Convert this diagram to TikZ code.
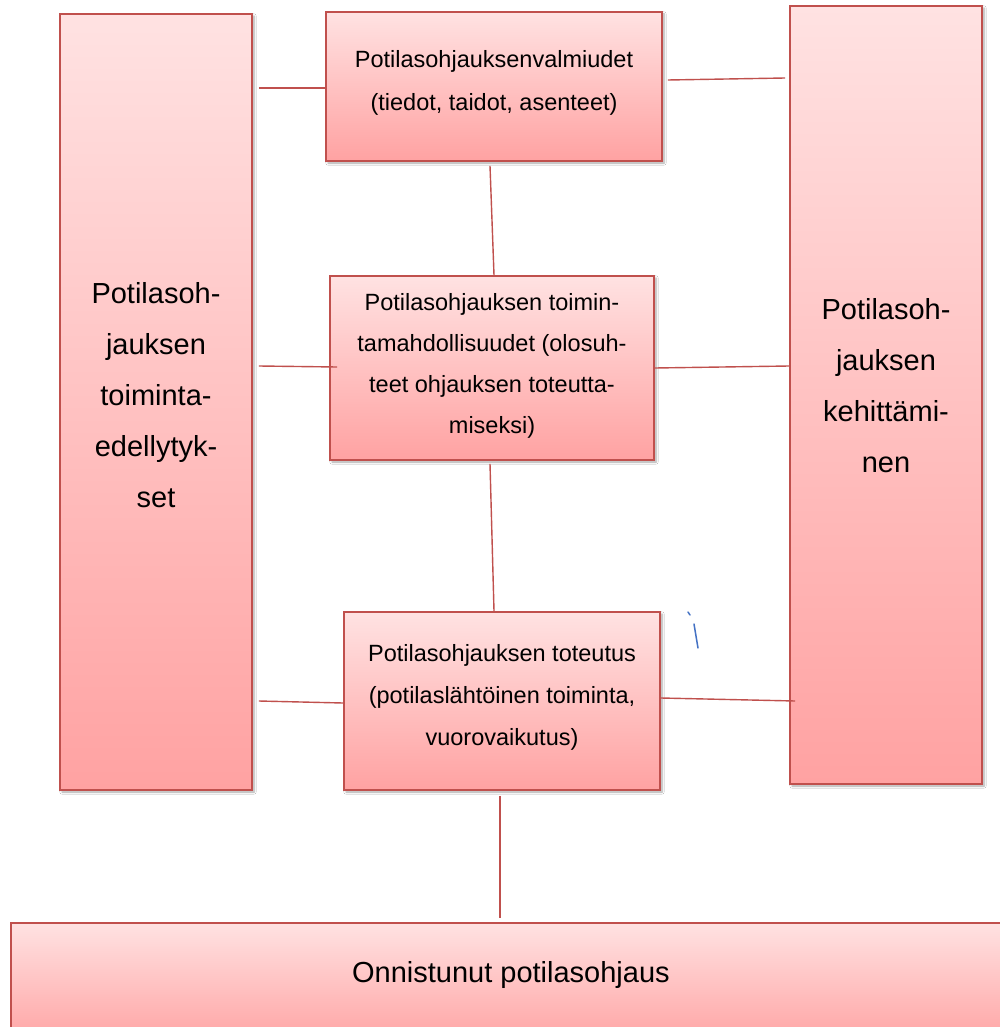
\documentclass[tikz,border=0pt]{standalone}
\usepackage{fontspec}
\setmainfont{Liberation Sans}
\usetikzlibrary{calc,shadows.blur}
\definecolor{edgered}{RGB}{192,80,77}
\definecolor{toppink}{RGB}{255,226,226}
\definecolor{botpink}{RGB}{255,162,162}
\definecolor{inkblue}{RGB}{68,114,196}
\newcommand\lowstrut[1]{\rule[-#1]{0pt}{#1}}
\tikzset{
  pbox/.style={draw=edgered, line width=1.8pt, top color=toppink, bottom color=botpink,
    inner sep=0pt, align=center, text=black,
    blur shadow={shadow xshift=2pt, shadow yshift=-2pt, shadow blur steps=6, shadow opacity=35}},
  smalltext/.style={font=\fontsize{23.5}{42}\selectfont},
  bigtext/.style={font=\fontsize{29}{51}\selectfont},
  link/.style={draw=edgered, line width=1.4pt}
}
\begin{document}
\begin{tikzpicture}[x=1pt,y=-1pt]
\clip (0,0) rectangle (1000,1027);
\fill[white] (0,0) rectangle (1000,1027);
% side boxes
\node[pbox, bigtext, minimum width=192pt, minimum height=776pt] (L) at (156,402)
  {Potilasoh-\\jauksen\\toiminta-\\edellytyk-\\set\lowstrut{14pt}};
\node[pbox, bigtext, minimum width=192pt, minimum height=778pt] (R) at (886,395)
  {Potilasoh-\\jauksen\\kehittämi-\\nen\lowstrut{20pt}};
% centre boxes
\node[pbox, font=\fontsize{23.5}{43}\selectfont, minimum width=336pt, minimum height=149pt] (T) at (494,86.5)
  {Potilasohjauksenvalmiudet\\(tiedot, taidot, asenteet)\lowstrut{13pt}};
\node[pbox, font=\fontsize{23.5}{41}\selectfont, minimum width=324pt, minimum height=184pt] (M) at (492,368)
  {Potilasohjauksen toimin-\\tamahdollisuudet (olosuh-\\teet ohjauksen toteutta-\\miseksi)\lowstrut{9pt}};
\node[pbox, smalltext, minimum width=316pt, minimum height=178pt] (B) at (502,701)
  {Potilasohjauksen toteutus\\(potilaslähtöinen toiminta,\\vuorovaikutus)\lowstrut{13pt}};
% final box
\node[pbox, bigtext, minimum width=1000pt, text height=60pt, text depth=63pt, anchor=north west] (F) at (10,922)
  {Onnistunut potilasohjaus};
% connectors
\draw[link] ($(L.east|-T.west)+(6,1.5)$) -- ($(T.west)+(0,1.5)$);
\draw[link] ($(T.east)+(5,-6.5)$) -- ($(R.west|-T.east)+(-4,-8.5)$);
\draw[link] ($(T.south)+(-4,4)$) -- ($(M.north)+(2,0)$);
\draw[link] ($(L.east|-M.west)+(6,-2)$) -- ($(M.west)+(8,-1)$);
\draw[link] (M.east) -- ($(R.west|-M.east)+(0,-2)$);
\draw[link] ($(M.south)+(-2,3)$) -- ($(B.north)+(-8,0)$);
\draw[link] ($(L.east|-B.west)+(6,0)$) -- ($(B.west)+(0,2)$);
\draw[link] ($(B.east)+(0,-3)$) -- ($(R.west|-B.east)+(6,0)$);
\draw[link] ($(B.south)+(-2,5)$) -- ($(B.south|-F.north)+(-2,-4)$);
% stray pen mark
\draw[inkblue, line width=1.5pt, line cap=round] (688,612) -- (690,615);
\draw[inkblue, line width=1.5pt, line cap=round] (694,624) -- (698,648);
\end{tikzpicture}
\end{document}
